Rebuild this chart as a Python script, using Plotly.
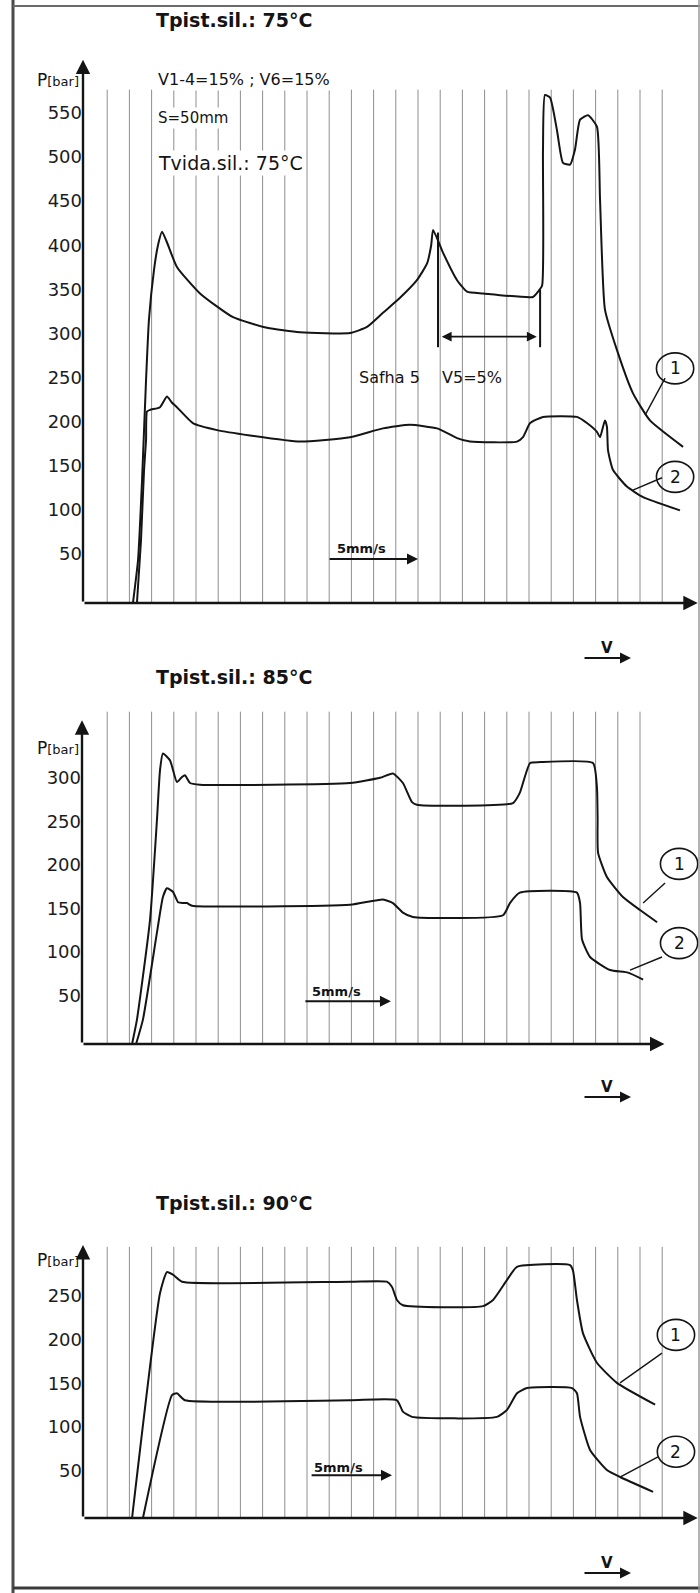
import plotly.graph_objects as go

W, H = 700, 1593
FONT = "DejaVu Sans"
INK = "#141414"

# x positions are in grid divisions along the V axis, pressures in bar
# ---- Tpist.sil. 75 °C ----
p1_c1_x = [2.16, 2.39, 2.57, 2.75, 2.88, 3.11, 3.29, 3.47, 3.69, 4.14, 5.18, 6.67, 8.20, 9.68,
           11.94, 12.70, 13.42, 14.19, 14.95, 15.41, 15.59, 15.68, 16.13, 16.76, 17.21, 17.93,
           20.18, 20.41, 20.59, 20.63, 20.72, 20.95, 21.26, 21.53, 21.85, 22.07, 22.30, 22.66,
           23.06, 23.20, 23.42, 23.96, 24.68, 25.45, 26.94]
p1_c1_p = [0, 49, 139, 253, 321, 378, 406, 421, 409, 381, 351, 324, 312, 307,
           306, 313, 329, 346, 366, 385, 405, 423, 397, 366, 353, 351,
           347, 353, 360, 514, 576, 573, 536, 499, 497, 514, 548, 553,
           540, 457, 333, 287, 238, 207, 177]
p1_c2_x = [2.34, 2.52, 2.66, 2.75, 2.79, 2.93, 3.38, 3.69, 3.92, 4.14, 4.86, 5.95, 7.43, 9.68,
           11.94, 13.42, 14.64, 15.86, 16.76, 17.34, 19.46, 19.73, 20.05, 20.63, 22.16, 22.61,
           23.06, 23.20, 23.42, 23.51, 23.56, 23.78, 24.41, 25.14, 26.80]
p1_c2_p = [0, 70, 151, 185, 217, 219, 222, 234, 227, 222, 204, 196, 190, 183,
           188, 198, 202, 198, 187, 183, 183, 188, 204, 211, 211, 204,
           194, 188, 207, 200, 173, 151, 132, 120, 105]

# ---- Tpist.sil. 85 °C ----
p2_c1_x = [2.12, 2.34, 2.93, 3.24, 3.38, 3.51, 3.83, 4.14, 4.37, 4.50, 4.73, 5.18, 11.94,
           13.29, 13.87, 14.32, 14.73, 14.95, 19.28, 19.59, 20.05, 20.50, 22.88, 23.06,
           23.09, 23.11, 23.51, 24.23, 25.00, 25.77]
p2_c1_p = [0, 28, 143, 257, 315, 334, 326, 301, 307, 309, 300, 298, 300,
           306, 311, 300, 278, 275, 277, 289, 323, 324, 323, 295,
           260, 220, 192, 169, 154, 140]
p2_c2_x = [2.30, 2.61, 3.24, 3.51, 3.69, 3.96, 4.19, 4.41, 4.59, 4.82, 11.94, 13.42, 13.87,
           14.32, 14.77, 18.83, 19.14, 19.59, 22.16, 22.30, 22.39, 22.75, 23.65, 24.46, 25.14]
p2_c2_p = [0, 28, 128, 169, 179, 175, 163, 162, 162, 159, 160, 166, 162,
           151, 146, 148, 162, 174, 174, 162, 120, 100, 85, 82, 74]

# ---- Tpist.sil. 90 °C ----
p3_c1_x = [2.12, 3.38, 3.69, 3.96, 4.37, 11.94, 13.60, 13.83, 14.05, 14.32, 17.93, 18.38,
           19.01, 19.46, 21.85, 21.98, 22.16, 22.43, 23.06, 23.96, 25.68]
p3_c1_p = [0, 258, 282, 279, 271, 271, 271, 265, 250, 244, 243, 250,
           273, 288, 290, 284, 250, 212, 178, 155, 130]
p3_c2_x = [2.61, 3.92, 4.14, 4.50, 11.94, 14.05, 14.32, 14.73, 18.56, 19.01, 19.46, 19.91,
           21.94, 22.16, 22.30, 22.75, 23.51, 24.10, 25.59]
p3_c2_p = [0, 141, 143, 135, 135, 135, 122, 116, 116, 124, 143, 149,
           149, 143, 116, 78, 55, 47, 30]

ticks_p1 = [50, 100, 150, 200, 250, 300, 350, 400, 450, 500, 550]
ticks_p2 = [50, 100, 150, 200, 250, 300]
ticks_p3 = [50, 100, 150, 200, 250]

# panel geometry: baseline / top pixel rows, px per bar, y-axis column, grid count
X0_PX, DIV_PX = 85.0, 22.2
panels = [
    dict(base=603, top=50, k=0.882, axis_px=83, ngrid=26, gtop=582, arrow_top=616, xend=27.6,
         ticks=ticks_p1, shift=-5),
    dict(base=1044, top=700, k=0.870, axis_px=82, ngrid=25, gtop=382, arrow_top=372, xend=26.1,
         ticks=ticks_p2, shift=-5),
    dict(base=1518, top=1235, k=0.872, axis_px=83, ngrid=26, gtop=311, arrow_top=313, xend=27.6,
         ticks=ticks_p3, shift=-4),
]

fig = go.Figure()
series = [(p1_c1_x, p1_c1_p), (p1_c2_x, p1_c2_p),
          (p2_c1_x, p2_c1_p), (p2_c2_x, p2_c2_p),
          (p3_c1_x, p3_c1_p), (p3_c2_x, p3_c2_p)]
for i, (xs, ps) in enumerate(series):
    n = i // 2 + 1
    fig.add_trace(go.Scatter(
        x=xs, y=ps, mode="lines", xaxis=f"x{n}", yaxis=f"y{n}",
        line=dict(color=INK, width=2, shape="spline", smoothing=0.5),
        hoverinfo="skip", showlegend=False))

shapes, annotations = [], []
layout_axes = {}
xrange = [-X0_PX / DIV_PX, (W - X0_PX) / DIV_PX]


def note(**kw):
    base = dict(showarrow=False, xanchor="center", yanchor="middle")
    base.update(kw)
    annotations.append(base)


for i, pn in enumerate(panels):
    n = i + 1
    xr, yr = f"x{n}", f"y{n}"
    pad = 4
    bottom_px = pn["base"] + pad
    layout_axes[f"xaxis{n}"] = dict(domain=[0, 1], range=xrange, visible=False,
                                    anchor=yr, fixedrange=True)
    layout_axes[f"yaxis{n}"] = dict(
        domain=[1 - bottom_px / H, 1 - pn["top"] / H],
        range=[-pad / pn["k"], (pn["base"] - pn["top"]) / pn["k"]],
        anchor="free", position=pn["axis_px"] / W,
        tickvals=pn["ticks"], ticks="", showgrid=False, zeroline=False, showline=False,
        ticklabelshift=pn["shift"], ticklabelstandoff=1,
        tickfont=dict(family=FONT, size=18, color="#1c1c1c"), fixedrange=True)
    ax_x = (pn["axis_px"] - X0_PX) / DIV_PX
    # vertical grid
    for g in range(1, pn["ngrid"] + 1):
        shapes.append(dict(type="line", xref=xr, yref=yr, x0=g, x1=g, y0=0, y1=pn["gtop"],
                           line=dict(color="#8e8e8e", width=1), layer="below"))
    # axes with arrowheads
    note(xref=xr, yref=yr, axref=xr, ayref=yr, x=pn["xend"], y=0,
         ax=ax_x, ay=0, text="", showarrow=True, arrowhead=2,
         arrowsize=1.2, arrowwidth=2.4, arrowcolor=INK)
    note(xref=xr, yref=yr, axref=xr, ayref=yr, x=ax_x, y=pn["arrow_top"],
         ax=ax_x, ay=0, text="", showarrow=True, arrowhead=2,
         arrowsize=1.2, arrowwidth=2.4, arrowcolor=INK)

# panel titles, axis captions, V direction arrows (paper positions)
titles = ["Tpist.sil.: 75°C", "Tpist.sil.: 85°C", "Tpist.sil.: 90°C"]
title_rows = [20, 677, 1203]
plabel_rows = [80, 748, 1260]
v_rows = [658, 1097, 1573]
for t, ty, py, vy in zip(titles, title_rows, plabel_rows, v_rows):
    note(xref="paper", yref="paper", x=234 / W, y=1 - ty / H, text=f"<b>{t}</b>",
         font=dict(family=FONT, size=19, color=INK))
    note(xref="paper", yref="paper", x=81 / W, y=1 - py / H, xanchor="right",
         text="P<span style='font-size:13px'>[bar]</span>",
         font=dict(family=FONT, size=17, color=INK))
    note(xref="paper", yref="paper", x=631 / W, y=1 - vy / H,
         axref="pixel", ayref="pixel", ax=-48, ay=0, text="",
         showarrow=True, arrowhead=2, arrowsize=1.1, arrowwidth=2, arrowcolor=INK)
    note(xref="paper", yref="paper", x=607 / W, y=1 - (vy - 10) / H, text="<b>V</b>",
         font=dict(family=FONT, size=15, color=INK))

# process notes in the first panel
notes = [("V1-4=15% ; V6=15%", 593, 16), ("S=50mm", 550, 15), ("Tvida.sil.: 75°C", 499, 19)]
for txt, yv, fs in notes:
    note(xref="x1", yref="y1", x=3.2, y=yv, xanchor="left", text=txt,
         bgcolor="white", borderpad=1, font=dict(family=FONT, size=fs, color=INK))

# Safha 5 interval marker
shapes.append(dict(type="line", xref="x1", yref="y1", x0=15.90, x1=15.90, y0=420, y1=290,
                   line=dict(color=INK, width=2)))
shapes.append(dict(type="line", xref="x1", yref="y1", x0=20.50, x1=20.50, y0=355, y1=290,
                   line=dict(color=INK, width=2)))
note(xref="x1", yref="y1", axref="x1", ayref="y1", x=20.35, y=302,
     ax=16.0, ay=302, text="", showarrow=True, arrowhead=2, startarrowhead=2,
     arrowside="end+start", arrowsize=1.1, arrowwidth=1.8, arrowcolor=INK)
note(xref="x1", yref="y1", x=12.25, y=256, xanchor="left", text="Safha 5",
     font=dict(family=FONT, size=16, color=INK))
note(xref="x1", yref="y1", x=15.99, y=256, xanchor="left", text="V5=5%",
     font=dict(family=FONT, size=16, color=INK))

# 5 mm/s speed arrows
speed = [(1, 10.95, 15.0, 50, 11.26, 62), (2, 9.86, 13.78, 49, 10.14, 60),
         (3, 10.14, 13.83, 49, 10.23, 58)]
for n, xa, xb, yv, xt, yt in speed:
    note(xref=f"x{n}", yref=f"y{n}", axref=f"x{n}", ayref=f"y{n}",
         x=xb, y=yv, ax=xa, ay=yv, text="", showarrow=True, arrowhead=2,
         arrowsize=1.1, arrowwidth=2, arrowcolor=INK)
    note(xref=f"x{n}", yref=f"y{n}", x=xt, y=yt, xanchor="left", text="<b>5mm/s</b>",
         font=dict(family=FONT, size=13, color=INK))

# curve markers (1), (2) with leader lines
markers = [
    (1, "1", 26.58, 266, (26.13, 255, 25.23, 213)),
    (1, "2", 26.58, 143, (25.99, 142, 24.68, 128)),
    (2, "1", 26.76, 207, (26.13, 185, 25.14, 162)),
    (2, "2", 26.76, 116, (25.99, 100, 24.55, 85)),
    (3, "1", 26.62, 210, (25.99, 189, 24.10, 155)),
    (3, "2", 26.62, 76, (25.81, 70, 24.10, 47)),
]
for n, lab, cx, cy, (lx0, ly0, lx1, ly1) in markers:
    k = panels[n - 1]["k"]
    shapes.append(dict(type="circle", xref=f"x{n}", yref=f"y{n}",
                       x0=cx - 0.84, x1=cx + 0.84, y0=cy - 15.5 / k, y1=cy + 15.5 / k,
                       line=dict(color=INK, width=1.6)))
    shapes.append(dict(type="line", xref=f"x{n}", yref=f"y{n}", x0=lx0, y0=ly0, x1=lx1, y1=ly1,
                       line=dict(color=INK, width=1.4)))
    note(xref=f"x{n}", yref=f"y{n}", x=cx, y=cy, text=lab,
         font=dict(family=FONT, size=17, color=INK))

# page frame
frame = [(13, 0, 13, 1593, "#4a4a4a", 3), (13, 6, 700, 6, "#6a6a6a", 2),
         (13, 1588, 700, 1588, "#3a3a3a", 3), (699, 0, 699, 1593, "#9a9a9a", 1.5)]
for x0, y0, x1, y1, c, w in frame:
    shapes.append(dict(type="line", xref="paper", yref="paper", x0=x0 / W, x1=x1 / W,
                       y0=1 - y0 / H, y1=1 - y1 / H, line=dict(color=c, width=w)))

fig.update_layout(width=W, height=H, margin=dict(l=0, r=0, t=0, b=0),
                  paper_bgcolor="white", plot_bgcolor="rgba(0,0,0,0)", showlegend=False,
                  shapes=shapes, annotations=annotations, **layout_axes)
fig.write_html("out.html")
